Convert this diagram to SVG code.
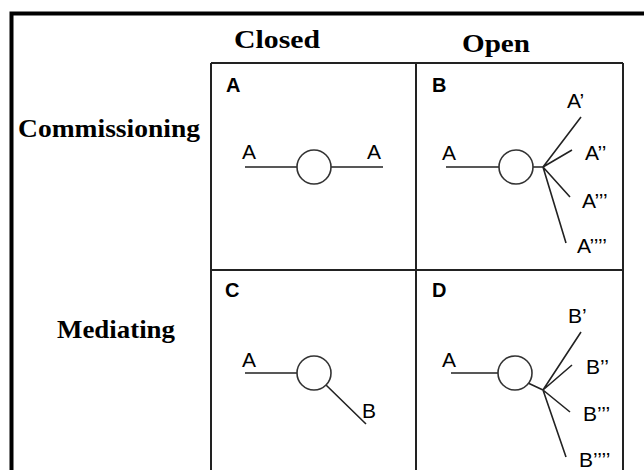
<svg xmlns="http://www.w3.org/2000/svg" width="644" height="470" viewBox="0 0 644 470">
<style>
.hdr{font-family:"Liberation Serif","Times New Roman",serif;font-weight:bold;font-size:25px;fill:#000}
.pl{font-family:"Liberation Sans",Arial,sans-serif;font-weight:bold;font-size:20px;fill:#000}
.lb{font-family:"Liberation Sans",Arial,sans-serif;font-size:21px;fill:#000}
.grid{fill:none;stroke:#222;stroke-width:2}
.node{fill:#fff;stroke:#333;stroke-width:1.6}
.ln{fill:none;stroke:#222;stroke-width:1.6}
</style>
<rect x="0" y="0" width="644" height="470" fill="#fff"/>
<rect x="11.5" y="13.5" width="700" height="500" fill="none" stroke="#000" stroke-width="4"/>
<g id="headers">
<text class="hdr" x="234" y="48" textLength="86" lengthAdjust="spacingAndGlyphs">Closed</text>
<text class="hdr" x="462" y="52" textLength="68" lengthAdjust="spacingAndGlyphs">Open</text>
<text class="hdr" x="18" y="137" textLength="182" lengthAdjust="spacingAndGlyphs">Commissioning</text>
<text class="hdr" x="57" y="338" textLength="118" lengthAdjust="spacingAndGlyphs">Mediating</text>
</g>
<g id="grid">
<path class="grid" d="M211 63H623M211 270H623M211 63V480M416 63V480M623 63V480"/>
</g>
<g id="connectors">
<path class="ln" d="M245 167H297M331 167H383"/>
<path class="ln" d="M446 167H499M533 167H543M543 167L581 117M543 167L572 150M543 167L570 197M543 167L566 243"/>
<path class="ln" d="M245 373H297M326 385L366 424"/>
<path class="ln" d="M451 373H498M528 383L543 390M543 390L581 332M543 390L572 365M543 390L570 412M543 390L566 457"/>
</g>
<g id="panelA">
<text class="pl" x="226" y="92">A</text>
<circle class="node" cx="314" cy="167" r="17"/>
<text class="lb" x="242" y="159">A</text>
<text class="lb" x="367" y="159">A</text>
</g>
<g id="panelB">
<text class="pl" x="432" y="92">B</text>
<circle class="node" cx="516" cy="167" r="17"/>
<text class="lb" x="442" y="160">A</text>
<text class="lb" x="567" y="108">A’</text>
<text class="lb" x="585" y="160">A’’</text>
<text class="lb" x="582" y="208">A’’’</text>
<text class="lb" x="577" y="253">A’’’’</text>
</g>
<g id="panelC">
<text class="pl" x="225" y="297">C</text>
<circle class="node" cx="314" cy="373" r="17"/>
<text class="lb" x="242" y="367">A</text>
<text class="lb" x="362" y="418">B</text>
</g>
<g id="panelD">
<text class="pl" x="432" y="297">D</text>
<circle class="node" cx="515" cy="373" r="17"/>
<text class="lb" x="442" y="367">A</text>
<text class="lb" x="568" y="323">B’</text>
<text class="lb" x="586" y="374">B’’</text>
<text class="lb" x="583" y="421">B’’’</text>
<text class="lb" x="579" y="467">B’’’’</text>
</g>
</svg>
